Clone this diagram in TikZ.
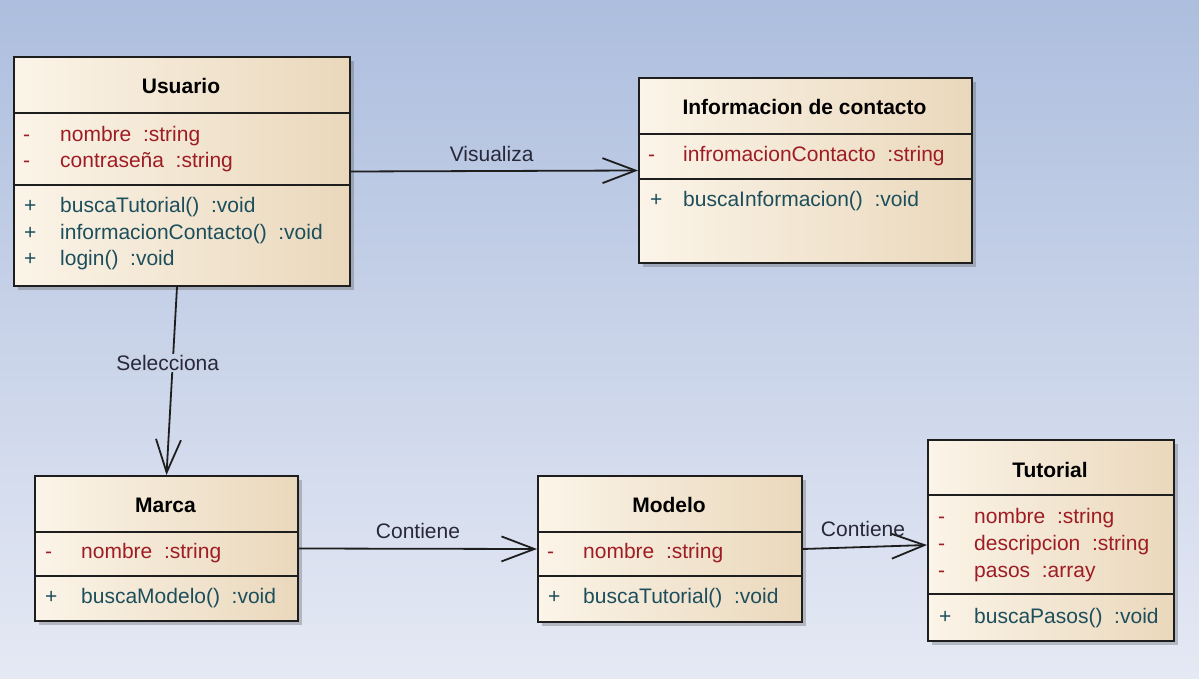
\documentclass[tikz,border=0pt]{standalone}
\usepackage{fontspec}
\setmainfont{Liberation Sans}
\usetikzlibrary{arrows.meta,shadows}
\definecolor{bgtop}{RGB}{173,190,222}
\definecolor{bgbot}{RGB}{229,233,244}
\definecolor{boxL}{RGB}{251,244,232}
\definecolor{boxR}{RGB}{234,216,188}
\definecolor{cAttr}{RGB}{158,28,36}
\definecolor{cMeth}{RGB}{28,78,92}
\definecolor{cLbl}{RGB}{40,40,56}
\definecolor{cEdge}{RGB}{30,30,30}
\definecolor{cLblBg}{RGB}{202,212,233}
\begin{document}
\begin{tikzpicture}[x=1pt,y=-1pt,
  classbox/.style={draw=cEdge, line width=2pt, left color=boxL, right color=boxR,
    anchor=north west, inner sep=0pt,
    drop shadow={shadow xshift=4pt, shadow yshift=-4pt, opacity=0.3, fill=black!70}},
  divider/.style={draw=cEdge, line width=1.6pt},
  title/.style={font=\fontsize{21}{26}\selectfont\bfseries, text=black, anchor=base, inner sep=0pt},
  attrtxt/.style={font=\fontsize{21}{26}\selectfont, text=cAttr, anchor=base west, inner sep=0pt},
  methtxt/.style={font=\fontsize{21}{26}\selectfont, text=cMeth, anchor=base west, inner sep=0pt},
  assoc/.style={draw=cEdge, line width=1.8pt, -{Straight Barb[length=33pt,width=25pt]}},
  conlabel/.style={font=\fontsize{21}{26}\selectfont, text=cLbl, inner sep=1pt}
]
\useasboundingbox (0,0) rectangle (1199,679);
\fill[top color=bgtop, bottom color=bgbot] (0,0) rectangle (1199,679);

% ---------- Usuario ----------
\node[classbox, minimum width=336pt, minimum height=229pt] (usr) at (13,56) {};
\node[title] (usrT) at (181,94) {Usuario};
\draw[divider] (usr.west |- 0,113) -- (usr.east |- 0,113);
\draw[divider] (usr.west |- 0,185) -- (usr.east |- 0,185);
\node[attrtxt] (usrA1s) at (23,142) {-};
\node[attrtxt] (usrA1) at (60,142) {nombre~~:string};
\node[attrtxt] (usrA2s) at (23,168) {-};
\node[attrtxt] (usrA2) at (60,168) {contraseña~~:string};
\node[methtxt] (usrM1s) at (24,213) {+};
\node[methtxt] (usrM1) at (60,213) {buscaTutorial()~~:void};
\node[methtxt] (usrM2s) at (24,239) {+};
\node[methtxt] (usrM2) at (60,239) {informacionContacto()~~:void};
\node[methtxt] (usrM3s) at (24,265) {+};
\node[methtxt] (usrM3) at (60,265) {login()~~:void};

% ---------- Informacion de contacto ----------
\node[classbox, minimum width=333pt, minimum height=185pt] (info) at (638,77) {};
\node[title] (infoT) at (804.5,115) {Informacion de contacto};
\draw[divider] (info.west |- 0,134) -- (info.east |- 0,134);
\draw[divider] (info.west |- 0,179) -- (info.east |- 0,179);
\node[attrtxt] (infoA1s) at (648,162) {-};
\node[attrtxt] (infoA1) at (683,162) {infromacionContacto~~:string};
\node[methtxt] (infoM1s) at (650,207) {+};
\node[methtxt] (infoM1) at (683,207) {buscaInformacion()~~:void};

% ---------- Marca ----------
\node[classbox, minimum width=263pt, minimum height=145pt] (marca) at (34,475) {};
\node[title] (marcaT) at (165.5,512) {Marca};
\draw[divider] (marca.west |- 0,532) -- (marca.east |- 0,532);
\draw[divider] (marca.west |- 0,576) -- (marca.east |- 0,576);
\node[attrtxt] (marcaA1s) at (45,558) {-};
\node[attrtxt] (marcaA1) at (81,558) {nombre~~:string};
\node[methtxt] (marcaM1s) at (45,603) {+};
\node[methtxt] (marcaM1) at (81,603) {buscaModelo()~~:void};

% ---------- Modelo ----------
\node[classbox, minimum width=264pt, minimum height=146pt] (modelo) at (537,475) {};
\node[title] (modeloT) at (669,512) {Modelo};
\draw[divider] (modelo.west |- 0,532) -- (modelo.east |- 0,532);
\draw[divider] (modelo.west |- 0,576) -- (modelo.east |- 0,576);
\node[attrtxt] (modeloA1s) at (547,558) {-};
\node[attrtxt] (modeloA1) at (583,558) {nombre~~:string};
\node[methtxt] (modeloM1s) at (548,603) {+};
\node[methtxt] (modeloM1) at (583,603) {buscaTutorial()~~:void};

% ---------- Tutorial ----------
\node[classbox, minimum width=246pt, minimum height=201pt] (tut) at (927,439) {};
\node[title] (tutT) at (1050,477) {Tutorial};
\draw[divider] (tut.west |- 0,495) -- (tut.east |- 0,495);
\draw[divider] (tut.west |- 0,594) -- (tut.east |- 0,594);
\node[attrtxt] (tutA1s) at (938,523) {-};
\node[attrtxt] (tutA1) at (974,523) {nombre~~:string};
\node[attrtxt] (tutA2s) at (938,550) {-};
\node[attrtxt] (tutA2) at (974,550) {descripcion~~:string};
\node[attrtxt] (tutA3s) at (938,577) {-};
\node[attrtxt] (tutA3) at (974,577) {pasos~~:array};
\node[methtxt] (tutM1s) at (939,623) {+};
\node[methtxt] (tutM1) at (974,623) {buscaPasos()~~:void};

% ---------- Connectors ----------
\draw[assoc] (usr.east) -- node[conlabel, pos=0.49, yshift=17pt] (lblVis) {Visualiza} (info.west);
\draw[assoc] ([xshift=-5pt]usr.south) -- node[conlabel, fill=cLblBg, pos=0.405, xshift=-5pt] (lblSel) {Selecciona} (marca.north);
\draw[assoc] (marca.east) -- node[conlabel, pos=0.5, yshift=18pt] (lblCon1) {Contiene} (modelo.west);
\draw[assoc] (modelo.east) -- node[conlabel, pos=0.484, yshift=18pt] (lblCon2) {Contiene} ([yshift=-4.5pt]tut.west);
\end{tikzpicture}
\end{document}
